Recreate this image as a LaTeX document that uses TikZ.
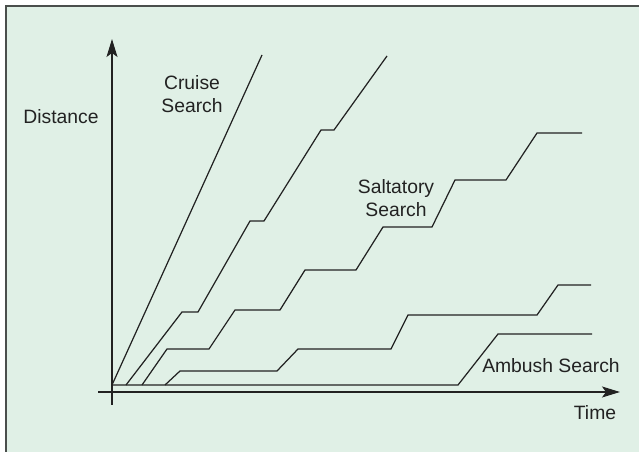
\documentclass[tikz,border=0pt]{standalone}
\usepackage{fontspec}
\setmainfont{Liberation Sans}
\usetikzlibrary{arrows.meta}

\definecolor{panelgreen}{HTML}{E0F0E6}
\definecolor{framegray}{HTML}{4A4F4C}
\definecolor{inkgray}{HTML}{222222}

\tikzset{
  track/.style={line width=0.7pt, inkgray, line join=miter},
  axis/.style={line width=0.7pt, inkgray, -{Stealth[length=0.36cm, width=0.22cm, inset=0.08cm]}},
  lbl/.style={font=\fontsize{11pt}{13pt}\selectfont, text=inkgray, inner sep=0pt, align=center}
}

\begin{document}
\begin{tikzpicture}[x=0.02cm, y=-0.02cm]
    \useasboundingbox (0,0) rectangle (639,452);

    % Panel
    \fill[panelgreen] (6,6) rectangle (639,452);
    \draw[framegray, line width=1.2pt] (6,452) -- (6,6) -- (639,6);

    % Axes
    \draw[axis] (112,405) -- (112,39);
    \draw[axis] (98,392) -- (620,392);

    % Cruise search
    \draw[track] (112,385) -- (262,55);

    % Saltatory search (fast)
    \draw[track] (126,385) -- (182,312) -- (198,312) -- (250,221) -- (264,221)
        -- (321,130) -- (334,130) -- (387,56);

    % Saltatory search (medium)
    \draw[track] (142,385) -- (167,349) -- (209,349) -- (235,310) -- (280,310)
        -- (305,270) -- (356,270) -- (383,227) -- (432,227) -- (455,180)
        -- (506,180) -- (537,133) -- (582,133);

    % Saltatory search (slow)
    \draw[track] (165,385) -- (180,371) -- (277,371) -- (298,349) -- (391,349)
        -- (408,315) -- (537,315) -- (558,285) -- (591,285);

    % Ambush search
    \draw[track] (112,385) -- (458,385) -- (498,334) -- (592,334);

    % Labels
    \node[lbl] (distance) at (61,117) {Distance};
    \node[lbl] (cruise) at (192,94) {Cruise\\Search};
    \node[lbl] (saltatory) at (396,198) {Saltatory\\Search};
    \node[lbl] (ambush) at (551,366) {Ambush Search};
    \node[lbl] (time) at (595,413) {Time};
\end{tikzpicture}
\end{document}
